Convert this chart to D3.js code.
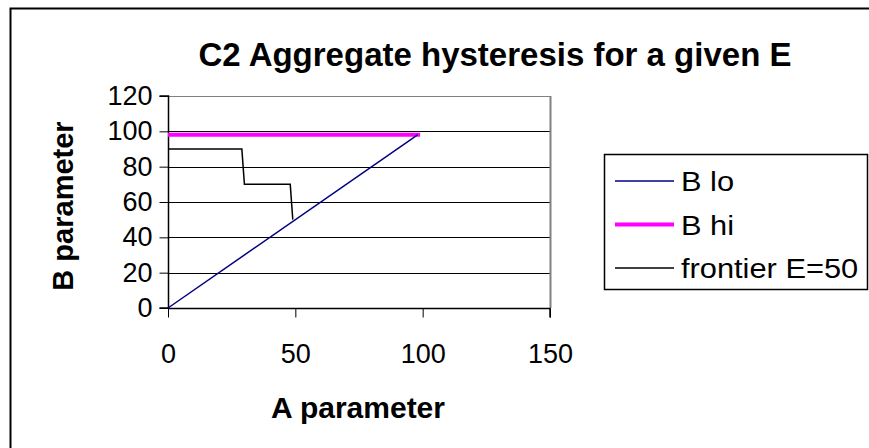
<!DOCTYPE html>
<html>
<head>
<meta charset="utf-8">
<script src="https://cdn.jsdelivr.net/npm/d3@7"></script>
<style>
  body { margin: 0; background: #fff; }
  svg { display: block; font-family: "Liberation Sans", Arial, sans-serif; }
</style>
</head>
<body>
<svg width="869" height="448"></svg>
<script>
// chart data
var seriesNames = ["B lo", "B hi", "frontier E=50"];
var bLoA = [0, 98];
var bLoB = [0, 98];
var bHiA = [0, 99];
var bHiB = [98, 98];
var frontierA = [0, 29, 30, 48, 49];
var frontierB = [90, 90, 70, 70, 50];
var xTicks = [0, 50, 100, 150];
var yTicks = [0, 20, 40, 60, 80, 100, 120];

var svg = d3.select("svg");
var plot = {left: 168, right: 550, top: 96, bottom: 308};

// outer frame (runs off the right and bottom edge)
svg.append("rect")
  .attr("x", 10.5).attr("y", 8.5)
  .attr("width", 900).attr("height", 500)
  .attr("fill", "#fff").attr("stroke", "#000").attr("stroke-width", 2);

var x = d3.scaleLinear().domain([0, 150]).range([plot.left, plot.right]);
var y = d3.scaleLinear().domain([0, 120]).range([plot.bottom, plot.top]);

// gridlines
svg.append("g")
  .selectAll("line")
  .data(yTicks.filter(function(d) { return d > 0; }))
  .enter().append("line")
    .attr("x1", plot.left).attr("x2", plot.right)
    .attr("y1", function(d) { return Math.round(y(d)) + 0.5; })
    .attr("y2", function(d) { return Math.round(y(d)) + 0.5; })
    .attr("stroke", function(d) { return d == 120 ? "#808080" : "#000"; });

// plot border on the right
svg.append("line")
  .attr("x1", plot.right + 0.5).attr("x2", plot.right + 0.5)
  .attr("y1", plot.top).attr("y2", plot.bottom)
  .attr("stroke", "#808080").attr("stroke-width", 2);

// axes
var xAxis = svg.append("g")
  .attr("transform", "translate(0," + (plot.bottom + 0.5) + ")")
  .call(d3.axisBottom(x).tickValues(xTicks).tickSize(9).tickPadding(26));
var yAxis = svg.append("g")
  .attr("transform", "translate(" + (plot.left + 0.5) + ",0)")
  .call(d3.axisLeft(y).tickValues(yTicks).tickSize(9).tickPadding(7));

[xAxis, yAxis].forEach(function(ax) {
  ax.select(".domain").attr("stroke", "#000").attr("stroke-width", 1.5);
  ax.selectAll(".tick line").attr("stroke", "#000");
  ax.selectAll(".tick text")
    .attr("fill", "#000")
    .style("font-size", "27px")
    .style("font-family", "Liberation Sans, Arial, sans-serif");
});
yAxis.select(".domain").attr("d", "M-9," + y(0) + "H0V" + y(120) + "H-9");
xAxis.select(".domain").attr("d", "M" + x(0) + ",0H" + x(150) + "V9");

// series
var line = d3.line()
  .x(function(d) { return x(d[0]); })
  .y(function(d) { return y(d[1]); });

function pairs(a, b) { return a.map(function(v, i) { return [v, b[i]]; }); }

svg.append("path")
  .datum(pairs(bHiA, bHiB))
  .attr("d", line).attr("fill", "none")
  .attr("stroke", "#ff00ff").attr("stroke-width", 4);
svg.append("path")
  .datum(pairs(bLoA, bLoB))
  .attr("d", line).attr("fill", "none")
  .attr("stroke", "#000080").attr("stroke-width", 1.5);
svg.append("path")
  .datum(pairs(frontierA, frontierB))
  .attr("d", line).attr("fill", "none")
  .attr("stroke", "#000").attr("stroke-width", 1.5);

// titles
svg.append("text")
  .attr("x", 495).attr("y", 66)
  .attr("text-anchor", "middle")
  .style("font-size", "33px").style("font-weight", "bold")
  .text("C2 Aggregate hysteresis for a given E");

svg.append("text")
  .attr("x", 358).attr("y", 418)
  .attr("text-anchor", "middle")
  .style("font-size", "30px").style("font-weight", "bold")
  .text("A parameter");

svg.append("text")
  .attr("transform", "translate(73,206) rotate(-90)")
  .attr("text-anchor", "middle")
  .style("font-size", "29px").style("font-weight", "bold")
  .text("B parameter");

// legend
var legendStyle = [
  {color: "#000080", width: 1.5},
  {color: "#ff00ff", width: 4},
  {color: "#000", width: 1.5}
];
var legend = svg.append("g");
legend.append("rect")
  .attr("x", 604.5).attr("y", 154.5)
  .attr("width", 263).attr("height", 135)
  .attr("fill", "#fff").attr("stroke", "#000").attr("stroke-width", 1.5);

var rows = legend.selectAll("g.row")
  .data(seriesNames)
  .enter().append("g")
    .attr("class", "row")
    .attr("transform", function(d, i) { return "translate(0," + (181 + i * 43.5) + ")"; });
rows.append("line")
  .attr("x1", 615).attr("x2", 674)
  .attr("stroke", function(d, i) { return legendStyle[i].color; })
  .attr("stroke-width", function(d, i) { return legendStyle[i].width; });
rows.append("text")
  .attr("transform", "translate(681,0) scale(1.1,1)")
  .attr("dy", "0.36em")
  .style("font-size", "28px")
  .text(function(d) { return d; });
</script>
</body>
</html>
